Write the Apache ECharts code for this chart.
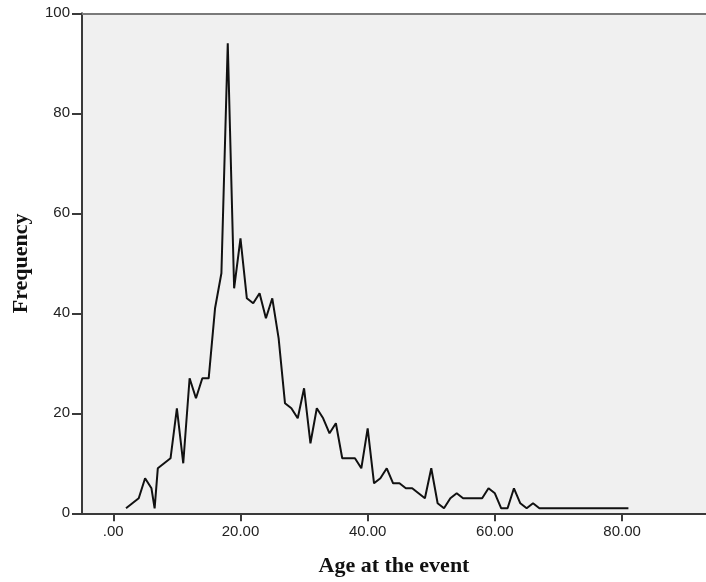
<!DOCTYPE html>
<html>
<head>
<meta charset="utf-8">
<script src="https://cdn.jsdelivr.net/npm/echarts@6/dist/echarts.min.js"></script>
<style>
html,body{margin:0;padding:0;background:#fff;}
#chart{width:706px;height:582px;}
</style>
</head>
<body>
<div id="chart"></div>
<script>
// Age at the event (years) and its frequency
var ages = [2, 3, 4, 5, 6, 6.5, 7, 8, 9, 10, 11, 12, 13, 14, 15, 16, 17, 18, 19, 20,
  21, 22, 23, 24, 25, 26, 27, 28, 29, 30, 31, 32, 33, 34, 35, 36, 37, 38, 39, 40,
  41, 42, 43, 44, 45, 46, 47, 48, 49, 50, 51, 52, 53, 54, 55, 56, 57, 58, 59, 60,
  61, 62, 63, 64, 65, 66, 67, 81];
var frequency = [1, 2, 3, 7, 5, 1, 9, 10, 11, 21, 10, 27, 23, 27, 27, 41, 48, 94, 45, 55,
  43, 42, 44, 39, 43, 35, 22, 21, 19, 25, 14, 21, 19, 16, 18, 11, 11, 11, 9, 17,
  6, 7, 9, 6, 6, 5, 5, 4, 3, 9, 2, 1, 3, 4, 3, 3, 3, 3, 5, 4,
  1, 1, 5, 2, 1, 2, 1, 1];
var xTickValues = [0, 20, 40, 60, 80];
var yTickValues = [0, 20, 40, 60, 80, 100];
var xTitle = 'Age at the event';
var yTitle = 'Frequency';

var seriesData = ages.map(function (a, i) { return [a, frequency[i]]; });

var chart = echarts.init(document.getElementById('chart'), null, {renderer: 'canvas'});
var tickFont = {fontFamily: 'Liberation Sans', fontSize: 15, color: '#222'};
chart.setOption({
  animation: false,
  backgroundColor: '#ffffff',
  grid: {
    left: 82, right: 0, top: 13.3, bottom: 68.7,
    containLabel: false,
    outerBoundsMode: 'none',
    show: true, backgroundColor: '#f0f0f0', borderWidth: 0
  },
  xAxis: [{
    type: 'value',
    min: -4.92, max: 93.2,
    position: 'bottom',
    axisLine: {show: true, onZero: false, lineStyle: {color: '#3a3a3a', width: 2}},
    axisTick: {show: true, length: 8, lineStyle: {color: '#3a3a3a', width: 2}, customValues: xTickValues},
    axisLabel: Object.assign({
      margin: 11,
      customValues: xTickValues,
      formatter: function (v) { return v === 0 ? '.00' : v.toFixed(2); }
    }, tickFont),
    splitLine: {show: false},
    name: xTitle,
    nameLocation: 'middle',
    nameGap: 42,
    nameTextStyle: {fontFamily: 'Liberation Serif', fontWeight: 'bold', fontSize: 22, color: '#111'}
  }, {
    type: 'value',
    min: -4.92, max: 93.2,
    position: 'top',
    axisLine: {show: true, onZero: false, lineStyle: {color: '#7a7a7a', width: 2}},
    axisTick: {show: false},
    axisLabel: {show: false},
    splitLine: {show: false}
  }],
  yAxis: {
    type: 'value',
    min: 0, max: 100, interval: 20,
    position: 'left',
    axisLine: {show: true, onZero: false, lineStyle: {color: '#3a3a3a', width: 2}},
    axisTick: {show: true, length: 10, lineStyle: {color: '#3a3a3a', width: 2}},
    axisLabel: Object.assign({margin: 12}, tickFont),
    splitLine: {show: false},
    name: yTitle,
    nameLocation: 'middle',
    nameRotate: 90,
    nameGap: 50,
    nameTextStyle: {fontFamily: 'Liberation Serif', fontWeight: 'bold', fontSize: 22, color: '#111'}
  },
  series: [{
    type: 'line',
    data: seriesData,
    xAxisIndex: 0,
    showSymbol: false,
    symbol: 'none',
    lineStyle: {color: '#111', width: 2},
    silent: true
  }]
});
</script>
</body>
</html>
